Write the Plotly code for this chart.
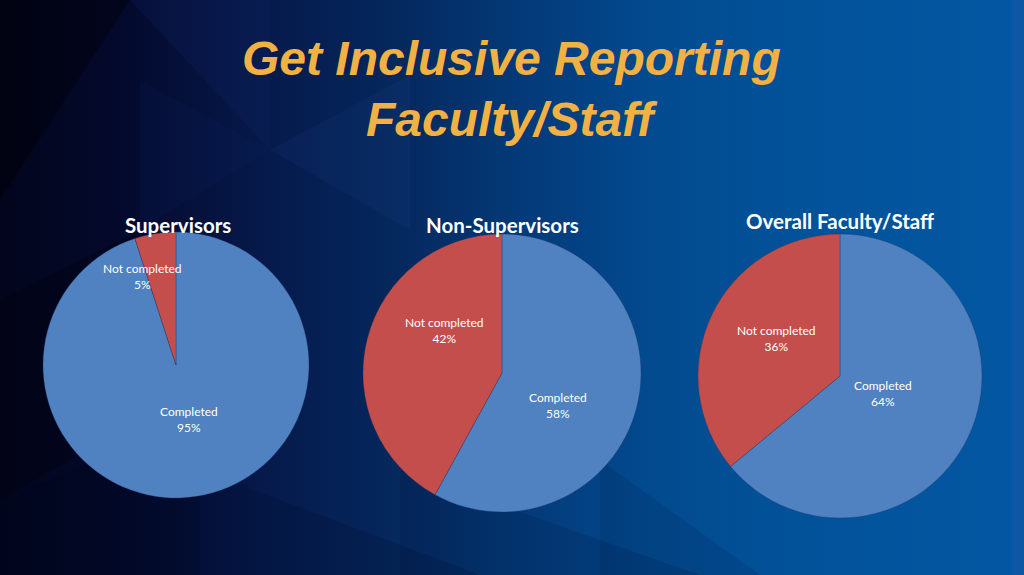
import plotly.graph_objects as go

# data
groups = ["Supervisors", "Non-Supervisors", "Overall Faculty/Staff"]
labels = ["Completed", "Not completed"]
completed = [95, 58, 64]
not_completed = [5, 42, 36]

W, H = 1024, 575

BLUE = "#5081c0"
RED = "#c44e4b"
TITLE_COLOR = "#f2b143"

# pie placement (pixel center, radius)
pie_geom = [(176, 365, 133), (502, 373, 139), (840, 376, 142)]
title_pos = [(178, 225), (502, 225), (840, 221)]
# label anchors in pixels: [completed, not completed]
label_pos = [[(189, 419), (142, 276)],
             [(558, 405), (444, 330)],
             [(883, 393), (776, 339)]]


def px(x):
    return x / W


def py(y):
    return 1 - y / H


def lerp_hex(c1, c2, t):
    a = [int(c1[i:i + 2], 16) for i in (1, 3, 5)]
    b = [int(c2[i:i + 2], 16) for i in (1, 3, 5)]
    return "#" + "".join(f"{round(a[k] + (b[k] - a[k]) * t):02x}" for k in range(3))


def note(x, y, text, size, color, family="Lato"):
    fig.add_annotation(x=px(x), y=py(y), xref="paper", yref="paper", text=text,
                       xanchor="center", yanchor="middle", showarrow=False,
                       font=dict(family=family, size=size, color=color))


fig = go.Figure()

for i, g in enumerate(groups):
    cx, cy, r = pie_geom[i]
    fig.add_trace(go.Pie(
        labels=labels,
        values=[completed[i], not_completed[i]],
        sort=False,
        direction="clockwise",
        rotation=0,
        textinfo="none",
        hoverinfo="label+percent",
        marker=dict(colors=[BLUE, RED], line=dict(color="rgba(30,50,90,0.5)", width=0.6)),
        domain=dict(x=[px(cx - r), px(cx + r)], y=[py(cy + r), py(cy - r)]),
        showlegend=False,
    ))
    tx, ty = title_pos[i]
    note(tx, ty, f"<b>{g}</b>", 20.5, "white")
    vals = [completed[i], not_completed[i]]
    for j, lab in enumerate(labels):
        lx, ly = label_pos[i][j]
        note(lx, ly, f"{lab}<br>{vals[j]}%", 12, "white")

# background: horizontal gradient in thin bands
stops = [(0, "#03051c"), (130, "#040a2e"), (270, "#061a4c"), (400, "#05285e"),
         (520, "#043a78"), (650, "#034a8e"), (800, "#02529a"), (1024, "#0357a2")]
shapes = []
step = 8
for x0 in range(0, W, step):
    xm = x0 + step / 2
    for k in range(len(stops) - 1):
        if stops[k][0] <= xm <= stops[k + 1][0]:
            t = (xm - stops[k][0]) / (stops[k + 1][0] - stops[k][0])
            col = lerp_hex(stops[k][1], stops[k + 1][1], t)
            break
    shapes.append(dict(type="rect", xref="paper", yref="paper", layer="below",
                       x0=px(x0), x1=px(x0 + step + 1), y0=0, y1=1,
                       fillcolor=col, line=dict(width=0)))


def tri(pts, color):
    path = "M " + " L ".join(f"{px(a)},{py(b)}" for a, b in pts) + " Z"
    return dict(type="path", xref="paper", yref="paper", layer="below", path=path,
                fillcolor=color, line=dict(width=0))


# faceted triangles
shapes += [
    tri([(0, 0), (130, 0), (0, 200)], "rgba(0,0,0,0.35)"),
    tri([(130, 0), (270, 0), (270, 150), (200, 75)], "rgba(20,40,110,0.2)"),
    tri([(140, 80), (270, 150), (140, 230)], "rgba(20,40,110,0.12)"),
    tri([(0, 300), (140, 230), (140, 420), (0, 500)], "rgba(0,0,10,0.3)"),
    tri([(270, 150), (410, 75), (410, 230)], "rgba(30,70,150,0.12)"),
    tri([(0, 500), (200, 420), (200, 575), (0, 575)], "rgba(0,5,30,0.35)"),
    tri([(200, 470), (480, 575), (200, 575)], "rgba(0,10,40,0.2)"),
    tri([(400, 470), (700, 575), (400, 575)], "rgba(0,20,60,0.18)"),
    tri([(600, 460), (760, 575), (600, 575)], "rgba(0,20,60,0.12)"),
    tri([(1013, 0), (1024, 0), (1024, 575), (1013, 575)], "rgba(40,90,170,0.3)"),
]

# page title
note(511, 59, "<b><i>Get Inclusive Reporting</i></b>", 48, TITLE_COLOR, "Liberation Sans")
note(511, 119, "<b><i>Faculty/Staff</i></b>", 48, TITLE_COLOR, "Liberation Sans")

fig.update_layout(
    width=W, height=H,
    margin=dict(l=0, r=0, t=0, b=0),
    paper_bgcolor="#04306a",
    plot_bgcolor="#04306a",
    shapes=shapes,
)

fig.write_html("out.html", config={"displayModeBar": False},
               post_script="document.body.style.margin='0';document.body.style.overflow='hidden';")
